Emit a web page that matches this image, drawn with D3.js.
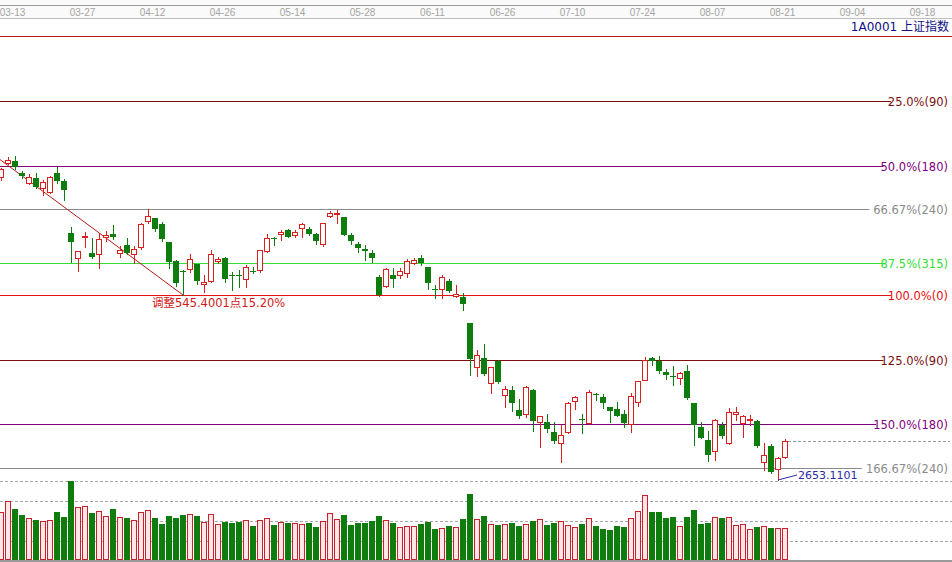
<!DOCTYPE html>
<html><head><meta charset="utf-8">
<script src="https://cdn.jsdelivr.net/npm/d3@7/dist/d3.min.js"></script>
<style>html,body{margin:0;padding:0;background:#fff;overflow:hidden}svg{display:block}</style>
</head><body><svg id="c" width="952" height="562"></svg>
<script>
// ---------------- data ----------------
const dates = ["03-09","03-12","03-13","03-14","03-15","03-16","03-19","03-20","03-21","03-22",
"03-23","03-26","03-27","03-28","03-29","03-30","04-02","04-03","04-04","04-09",
"04-10","04-11","04-12","04-13","04-16","04-17","04-18","04-19","04-20","04-23",
"04-24","04-25","04-26","04-27","05-02","05-03","05-04","05-07","05-08","05-09",
"05-10","05-11","05-14","05-15","05-16","05-17","05-18","05-21","05-22","05-23",
"05-24","05-25","05-28","05-29","05-30","05-31","06-01","06-04","06-05","06-06",
"06-07","06-08","06-11","06-12","06-13","06-14","06-15","06-19","06-20","06-21",
"06-22","06-25","06-26","06-27","06-28","06-29","07-02","07-03","07-04","07-05",
"07-06","07-09","07-10","07-11","07-12","07-13","07-16","07-17","07-18","07-19",
"07-20","07-23","07-24","07-25","07-26","07-27","07-30","07-31","08-01","08-02",
"08-03","08-06","08-07","08-08","08-09","08-10","08-13","08-14","08-15","08-16",
"08-17","08-20","08-21"];
const opens = [3290,3320,3324,3299,3278,3289,3266,3258,3299,3282,
3172,3119,3163,3131,3128,3163,3170,3131,3146,3127,
3143,3198,3203,3191,3153,3114,3093,3096,3106,3065,
3071,3113,3119,3084,3084,3075,3093,3094,3134,3161,
3170,3178,3168,3182,3180,3170,3150,3208,3212,3205,
3168,3148,3138,3131,3079,3061,3084,3084,3089,3110,
3120,3100,3055,3054,3072,3040,3037,2982,2891,2910,
2856,2903,2830,2842,2799,2791,2842,2775,2775,2754,
2731,2753,2819,2780,2772,2834,2826,2805,2801,2791,
2769,2816,2863,2910,2903,2879,2871,2867,2882,2815,
2763,2736,2713,2768,2729,2792,2772,2778,2777,2691,
2724,2675,2700];
const highs = [3309,3332,3333.9,3303,3296,3298,3284,3292,3312,3285,
3184,3134,3175,3162,3173,3177,3189,3145,3161,3145,
3193,3222,3204,3196,3154,3115,3095,3127,3107,3084,
3136,3122,3122,3091,3094,3105,3101,3137,3170,3164,
3178,3180,3178,3194,3184,3173,3194,3219,3219.7,3205,
3173,3154,3147,3136,3084,3098,3099,3098,3117,3119,
3126,3101,3063,3084,3075,3063,3045,2982,2926,2938,
2891,2905,2851,2851,2822,2849,2843,2787,2791,2774,
2768,2816,2828,2792,2842,2836,2833,2806,2817,2800,
2836,2861,2912,2912,2913,2885,2893,2880,2894,2815,
2775,2756,2780,2775,2803,2806,2789,2789,2779,2731,
2728,2700,2738];
const lows = [3284,3318,3308,3289,3275,3268,3252,3256,3277,3242,
3112,3092,3143,3119,3099,3156,3159,3121,3127,3109,
3138,3194,3177,3156,3098,3061,3041.63,3091,3064,3049,
3070,3110,3070,3052,3059,3058,3087,3091,3133,3147,
3157,3163,3164,3164,3167,3149,3145,3206,3193,3168,
3150,3133,3115,3112,3040,3058,3059,3078,3080,3107,
3105,3054,3035,3035,3049,3038,3011,2873,2871,2873,
2836,2857,2805,2798,2782,2785,2756,2722,2754,2729,
2691,2750,2801,2752,2770,2821,2804,2775,2786,2764,
2754,2808,2862,2894,2877,2864,2852,2854,2822,2726,
2740,2693,2694,2741,2727,2778,2743,2768,2721,2673,
2666,2653.11,2698];
const closes = [3307.2,3326.7,3310.2,3291.4,3291.1,3269.9,3279.3,3290.6,3281.0,3263.5,
3152.8,3133.7,3166.7,3122.3,3160.5,3168.9,3163.2,3136.6,3131.1,3138.3,
3190.3,3208.1,3180.2,3159.1,3110.7,3066.8,3091.4,3117.4,3071.5,3068.0,
3128.9,3118.0,3075.0,3082.2,3081.2,3100.9,3091.0,3136.6,3161.5,3159.2,
3174.4,3163.3,3174.0,3192.1,3169.6,3154.3,3193.3,3213.8,3214.4,3169.0,
3154.7,3141.3,3135.1,3120.5,3041.4,3095.5,3075.1,3091.2,3114.2,3115.2,
3109.5,3067.2,3052.8,3079.8,3049.8,3044.2,3021.9,2907.8,2915.7,2875.8,
2889.8,2859.3,2844.5,2813.2,2786.9,2847.4,2775.6,2786.9,2759.1,2733.9,
2747.2,2815.1,2827.6,2777.8,2837.7,2831.2,2814.0,2798.1,2787.3,2772.6,
2829.3,2859.5,2905.6,2903.7,2882.2,2873.6,2869.1,2876.4,2824.5,2768.0,
2740.4,2705.2,2779.4,2744.1,2794.4,2795.3,2785.9,2781.0,2723.3,2705.2,
2669.0,2698.5,2733.2];
const volumes = [241,299,258,228,211,203,198,201,243,218,
399,266,271,238,246,221,258,216,213,201,
243,251,213,183,223,211,228,233,223,191,
231,183,193,188,193,201,173,201,211,178,
191,188,186,181,188,168,198,238,206,228,
178,188,188,198,223,201,188,166,171,171,
183,193,158,161,173,166,208,333,206,223,
181,178,181,188,173,181,198,206,178,188,
198,178,166,183,211,173,158,151,173,168,
211,248,328,243,243,213,218,173,218,253,
183,188,216,213,216,178,183,156,168,173,
163,161,161];
const tickLabels = ["03-13","03-27","04-12","04-26","05-14","05-28","06-11","06-26","07-10","07-24","08-07","08-21","09-04","09-18"];
const tickIndex  = [2,12,22,32,42,52,62,72,82,92,102,112,122,132];
const volGrid = [100,200,300,400];
// Fibonacci swing: high (01-29, 24 bars before the first bar) and low (04-18)
const swingHigh = 3587.03, swingHighIndex = -24;
const swingLow = 3041.63, swingLowIndex = 26;
const fibPct  = [0, 25, 50, 66.67, 87.5, 100, 125, 150, 166.67];
const fibDays = [null, 90, 180, 240, 315, 0, 90, 180, 240];
const lowValue = 2653.11, lowIndex = 111, lowLabel = "2653.1101";
const titleText = "1A0001 上证指数";
const adjustText = "调整545.4001点15.20%";

// ---------------- styles ----------------
const RED = "#d8201e", GREEN = "#0e7d0e", VRED = "#c8202c", VFILL = "#ffe6e6";
const fibColor = {0:"#b01818",25:"#7a1010",50:"#800080",66.67:"#8a8a8a",87.5:"#33dd33",100:"#e81010",125:"#7a1010",150:"#800080",166.67:"#8a8a8a"};
const fibGap = {66.67:7,166.67:7};
const FONT = "'DejaVu Sans','Noto Sans CJK SC',sans-serif";

const svg = d3.select("#c");
const x = d3.scaleLinear().domain([0, 112]).range([1, 785]);
const y = d3.scaleLinear().domain([swingLow, swingHigh]).range([295, 36]);
const yv = d3.scaleLinear().domain([0, 400]).range([560.5, 480.5]);
const W = 952;

// top date strip
svg.append("rect").attr("x",0).attr("y",0).attr("width",W).attr("height",18).attr("fill","#fafafa");
svg.append("line").attr("x1",0).attr("x2",W).attr("y1",5.5).attr("y2",5.5).attr("stroke","#9c9c9c");
svg.append("line").attr("x1",0).attr("x2",W).attr("y1",18.5).attr("y2",18.5).attr("stroke","#bdbdbd");
const ax = d3.axisTop(x).tickValues(tickIndex).tickFormat((d,i)=>tickLabels[i]).tickSize(0).tickPadding(0);
const axg = svg.append("g").attr("transform","translate(-3,16)").call(ax);
axg.select(".domain").remove();
axg.selectAll("text").attr("y",0).attr("dy",0).attr("fill","#a4a4a4")
   .style("font-family","'Liberation Sans',Arial,sans-serif").style("font-size","10px");

// title
svg.append("text").attr("x",949).attr("y",31).attr("text-anchor","end")
  .attr("fill","#101088").style("font-family",FONT).style("font-size","12px").text(titleText);

// volume grid
svg.selectAll("line.vg").data(volGrid).enter().append("line").attr("class","vg")
  .attr("x1",0).attr("x2",W).attr("y1",d=>Math.round(yv(d))+0.5).attr("y2",d=>Math.round(yv(d))+0.5)
  .attr("stroke","#a8a8a8").attr("stroke-dasharray","3,2");

// fibonacci lines + labels
const fibLines = svg.append("g"), fibTexts = svg.append("g");
const range = swingHigh - swingLow;
fibPct.forEach((p,k)=>{
  const v = swingHigh - p/100*range;
  const yy = Math.round(y(v)) + 0.5;
  const col = fibColor[p];
  let x2 = W;
  if (fibDays[k] !== null) {
    const lbl = (p===66.67||p===166.67 ? p.toFixed(2) : p.toFixed(1)) + "%(" + fibDays[k] + ")";
    const t = fibTexts.append("text").attr("x",948).attr("y",yy).attr("dy","0.36em").attr("text-anchor","end")
      .attr("fill",col).style("font-family",FONT).style("font-size","11.5px").text(lbl);
    const w = t.node().getComputedTextLength();
    x2 = 948 - w + 3 - (fibGap[p]||0);
  }
  fibLines.append("line").attr("x1",0).attr("x2",x2).attr("y1",yy).attr("y2",yy).attr("stroke",col).attr("stroke-width",1);
});

// swing diagonal
svg.append("line").attr("x1",x(swingHighIndex)).attr("y1",y(swingHigh)).attr("x2",x(swingLowIndex)).attr("y2",y(swingLow))
  .attr("stroke","#b81a1a").attr("stroke-width",1);
svg.append("text").attr("x",x(swingLowIndex)-31).attr("y",306.5).attr("fill","#d01818")
  .style("font-family",FONT).style("font-size","11.5px").text(adjustText);

// last close dashed line
const lastY = Math.round(y(closes[closes.length-1]))+0.5;
svg.append("line").attr("x1",788).attr("x2",950).attr("y1",lastY).attr("y2",lastY)
  .attr("stroke","#9a9a9a").attr("stroke-dasharray","3,2");

// candles
const idx = d3.range(dates.length);
const cg = svg.append("g");
idx.forEach(i=>{
  const c = Math.round(x(i));
  const o = opens[i], cl = closes[i], hi = highs[i], lo = lows[i];
  const up = cl > o;
  const col = up ? RED : GREEN;
  const yt = Math.round(y(Math.max(o,cl))), yb = Math.round(y(Math.min(o,cl)));
  cg.append("line").attr("x1",c+0.5).attr("x2",c+0.5).attr("y1",Math.round(y(hi))).attr("y2",Math.round(y(lo))+1)
    .attr("stroke",col);
  if (up) {
    cg.append("rect").attr("x",c-2.5).attr("y",yt+0.5).attr("width",5).attr("height",Math.max(yb-yt,0))
      .attr("fill","#fff").attr("stroke",col);
  } else {
    cg.append("rect").attr("x",c-3).attr("y",yt).attr("width",6).attr("height",Math.max(yb-yt,1)).attr("fill",col);
  }
});

// volume bars
const vg = svg.append("g");
idx.forEach(i=>{
  const c = Math.round(x(i));
  const up = closes[i] > opens[i];
  const top = Math.round(yv(volumes[i]));
  if (up) {
    vg.append("rect").attr("x",c-2.5).attr("y",top+0.5).attr("width",5).attr("height",560-top-1)
      .attr("fill",VFILL).attr("stroke",VRED);
  } else {
    vg.append("rect").attr("x",c-3).attr("y",top).attr("width",6).attr("height",560-top).attr("fill",GREEN);
  }
});
svg.append("rect").attr("x",0).attr("y",560).attr("width",W).attr("height",2).attr("fill","#9a9a9a");

// low annotation
const lx = Math.round(x(lowIndex)), ly = Math.round(y(lowValue));
svg.append("line").attr("x1",lx).attr("y1",ly).attr("x2",lx+19).attr("y2",ly-5).attr("stroke","#2a2aa8");
svg.append("text").attr("x",lx+20).attr("y",ly-1.5).attr("fill","#2a2aa8")
  .style("font-family",FONT).style("font-size","11px").text(lowLabel);
</script></body></html>
